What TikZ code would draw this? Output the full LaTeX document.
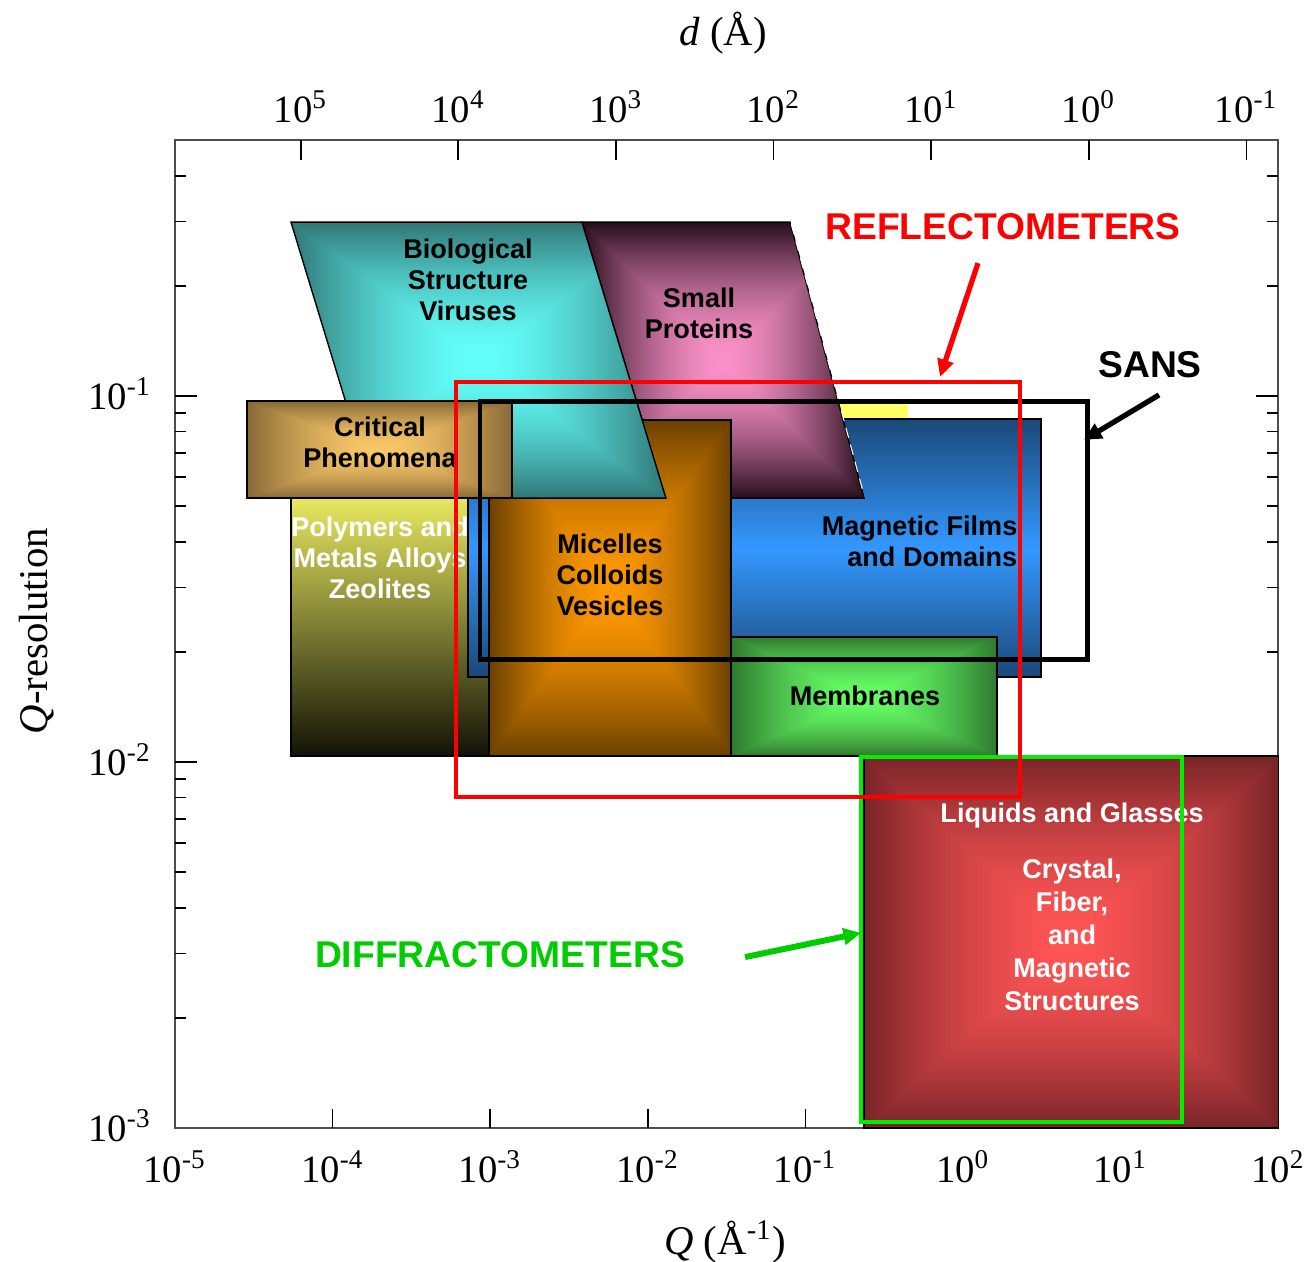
\documentclass[tikz,border=0pt]{standalone}
\usepackage{fontspec}
\setmainfont{Liberation Serif}
\newfontfamily\labelfont{Liberation Sans}
\usetikzlibrary{arrows.meta}

% region colours: edge / centre
\definecolor{bioout}{RGB}{48,118,118}
\definecolor{bioin}{RGB}{100,255,250}
\definecolor{protout}{RGB}{38,14,28}
\definecolor{protin}{RGB}{250,145,200}
\definecolor{critout}{RGB}{135,104,54}
\definecolor{critin}{RGB}{250,200,105}
\definecolor{polytop}{RGB}{232,232,96}
\definecolor{polybot}{RGB}{18,18,6}
\definecolor{magdark}{RGB}{27,72,120}
\definecolor{maglight}{RGB}{52,152,255}
\definecolor{micout}{RGB}{106,64,0}
\definecolor{micin}{RGB}{255,152,0}
\definecolor{membout}{RGB}{46,120,46}
\definecolor{membin}{RGB}{102,255,102}
\definecolor{liqout}{RGB}{120,36,40}
\definecolor{liqin}{RGB}{255,84,84}
\definecolor{strip}{RGB}{255,255,102}
\definecolor{diffrtext}{RGB}{0,204,0}
\definecolor{diffrbox}{RGB}{0,238,0}

% rectangular "from centre" gradient: glowin in the middle, glowout at the edges
\colorlet{glowin}{white}
\colorlet{glowout}{black}
\pgfdeclarefunctionalshading[glowin,glowout]{rectglow}{\pgfpoint{-50bp}{-50bp}}{\pgfpoint{50bp}{50bp}}
{%
  \pgfshadecolortorgb{glowin}{\glowA}%
  \pgfshadecolortorgb{glowout}{\glowB}%
  \pgfmathsetmacro\glowdr{\glowBred-\glowAred}%
  \pgfmathsetmacro\glowdg{\glowBgreen-\glowAgreen}%
  \pgfmathsetmacro\glowdb{\glowBblue-\glowAblue}%
}{%
  abs exch abs 2 copy lt {exch} if pop 25 div dup 1 gt {pop 1} if 1.6 exp
  dup \glowdr\space mul \glowAred\space add exch
  dup \glowdg\space mul \glowAgreen\space add exch
  \glowdb\space mul \glowAblue\space add
}

\tikzset{
  region/.style={draw=black, line width=0.4pt},
  glow/.style 2 args={/utils/exec={\colorlet{glowin}{#1}\colorlet{glowout}{#2}}, shading=rectglow},
  tag/.style={font=\labelfont\bfseries\fontsize{7.7}{8.8}\selectfont, align=center, inner sep=0pt},
  instr/.style={font=\labelfont\bfseries\fontsize{10.6}{12}\selectfont, inner sep=0pt},
  ticklab/.style={font=\fontsize{11}{13}\selectfont, inner sep=0pt},
  axtitle/.style={font=\fontsize{11.6}{14}\selectfont, inner sep=0pt},
  window/.style={line width=1.3pt},
  pointer/.style={line width=1.5pt, -{Triangle[length=5pt,width=4.6pt]}},
  plotframe/.style={black!70, line width=0.6pt},
  axtick/.style={black, line width=0.5pt},
}

\begin{document}
\begin{tikzpicture}
    \useasboundingbox (0,0) rectangle (13.11,-12.61);
    % log10(Q) along x, log10(resolution) along y
    \begin{scope}[shift={(9.63cm,-0.30cm)}, x=1.576cm, y=3.66cm]
        % frame and ticks
        \draw[plotframe] (-5,-3) rectangle (2,-0.301);
        \foreach \e [count=\i] in {-5,...,2} {
            \ifnum\e>-5 \ifnum\e<2 \draw[axtick] (\e,-3) -- ++(0,0.19cm); \fi\fi
            \node[ticklab, anchor=base, yshift=-0.54cm] (qlab\i) at (\e,-3) {10\textsuperscript{\e}};
        }
        \foreach \k [count=\i] in {5,4,...,-1} {
            \pgfmathsetmacro\q{0.798-\k}
            \draw[axtick] (\q,-0.301) -- ++(0,-0.2cm);
            \node[ticklab, anchor=base, yshift=0.18cm] (dlab\i) at (\q,-0.301) {10\textsuperscript{\k}};
        }
        \foreach \e [count=\i] in {-3,-2,-1}
            \node[ticklab, anchor=base east, xshift=-0.23cm, yshift=-0.13cm] (rlab\i) at (-5,\e) {10\textsuperscript{\e}};
        \foreach \e in {-2,-1} {
            \draw[axtick] (-5,\e) -- ++(0.22cm,0);
            \draw[axtick] (2,\e) -- ++(-0.22cm,0);
        }
        \foreach \e/\last in {-3/9,-2/9,-1/4}
            \foreach \m in {2,...,\last} {
                \draw[axtick] (-5,{\e+log10(\m)}) -- ++(0.11cm,0);
                \draw[axtick] (2,{\e+log10(\m)}) -- ++(-0.11cm,0);
            }

        \node[axtitle] (dtitle) at (-1.523,-0.008) {\textit{d} (Å)};
        \node[axtitle] (qtitle) at (-1.510,-3.311) {\textit{Q} (Å\textsuperscript{-1})};
        \node[axtitle, rotate=90] (restitle) at (-5.880,-1.642) {\textit{Q}-resolution};

        % regions, back to front
        \fill[strip] (-3.1,-1.014) rectangle (-0.349,-1.3);
        \shadedraw[region, top color=polytop, bottom color=polybot] (-4.264,-1.279) rectangle (-3.008,-1.984);
        \node[tag, text=white] (polymers) at (-3.699,-1.443) {Polymers and\\Metals Alloys\\Zeolites};
        \shadedraw[region, top color=magdark, bottom color=magdark, middle color=maglight] (-3.141,-1.063) rectangle (0.495,-1.768);
        \node[tag, anchor=east, align=right] (magnetic) at (0.349,-1.396) {Magnetic Films\\and Domains};
        \shadedraw[region, glow={protin}{protout}] (-2.418,-0.525) -- (-1.098,-0.525) -- (-0.628,-1.279) -- (-1.885,-1.279) -- cycle;
        \draw[white, densely dashed, line width=0.3pt] (-1.090,-0.530) -- (-0.634,-1.262);
        \node[tag] (proteins) at (-1.675,-0.773) {Small\\Proteins};
        \shadedraw[region, glow={micin}{micout}] (-3.008,-1.066) rectangle (-1.472,-1.984);
        \node[tag] (micelles) at (-2.240,-1.489) {Micelles\\Colloids\\Vesicles};
        \shadedraw[region, glow={bioin}{bioout}] (-4.264,-0.525) -- (-2.418,-0.525) -- (-1.885,-1.279) -- (-3.731,-1.279) -- cycle;
        \node[tag] (bio) at (-3.141,-0.683) {Biological\\Structure\\Viruses};
        \shadedraw[region, glow={critin}{critout}] (-4.543,-1.014) rectangle (-2.862,-1.279);
        \node[tag] (critical) at (-3.699,-1.126) {Critical\\Phenomena};
        \shadedraw[region, glow={membin}{membout}] (-1.472,-1.658) rectangle (0.216,-1.984);
        \node[tag] (membranes) at (-0.622,-1.820) {Membranes};
        \shadedraw[region, glow={liqin}{liqout}] (-0.628,-1.984) rectangle (2,-3);
        \node[tag, text=white] (liquids) at (0.692,-2.145) {Liquids and Glasses};
        \node[tag, text=white, font=\labelfont\bfseries\fontsize{7.7}{9.4}\selectfont] (crystal) at (0.692,-2.473) {Crystal,\\Fiber,\\and\\Magnetic\\Structures};

        % instrument windows
        \draw[window, diffrbox] (-0.647,-1.986) rectangle (1.390,-2.984);
        \draw[window, black, line width=1.4pt] (-3.065,-1.016) rectangle (0.787,-1.719);
        \draw[window, red, line width=1.1pt] (-3.217,-0.962) rectangle (0.362,-2.096);

        \node[instr, text=red] (refl) at (0.254,-0.538) {REFLECTOMETERS};
        \node[instr] (sans) at (1.187,-0.915) {SANS};
        \node[instr, text=diffrtext] (diffr) at (-2.938,-2.527) {DIFFRACTOMETERS};

        \coordinate (reflFrom) at (0.095,-0.637);
        \coordinate (reflTo) at (-0.146,-0.948);
        \coordinate (sansFrom) at (1.244,-0.997);
        \coordinate (sansTo) at (0.768,-1.120);
        \coordinate (diffrFrom) at (-1.383,-2.533);
        \coordinate (diffrTo) at (-0.647,-2.467);
        \draw[pointer, red] (reflFrom) -- (reflTo);
        \draw[pointer, black] (sansFrom) -- (sansTo);
        \draw[pointer, diffrtext, line width=1.7pt] (diffrFrom) -- (diffrTo);
    \end{scope}
\end{tikzpicture}
\end{document}
